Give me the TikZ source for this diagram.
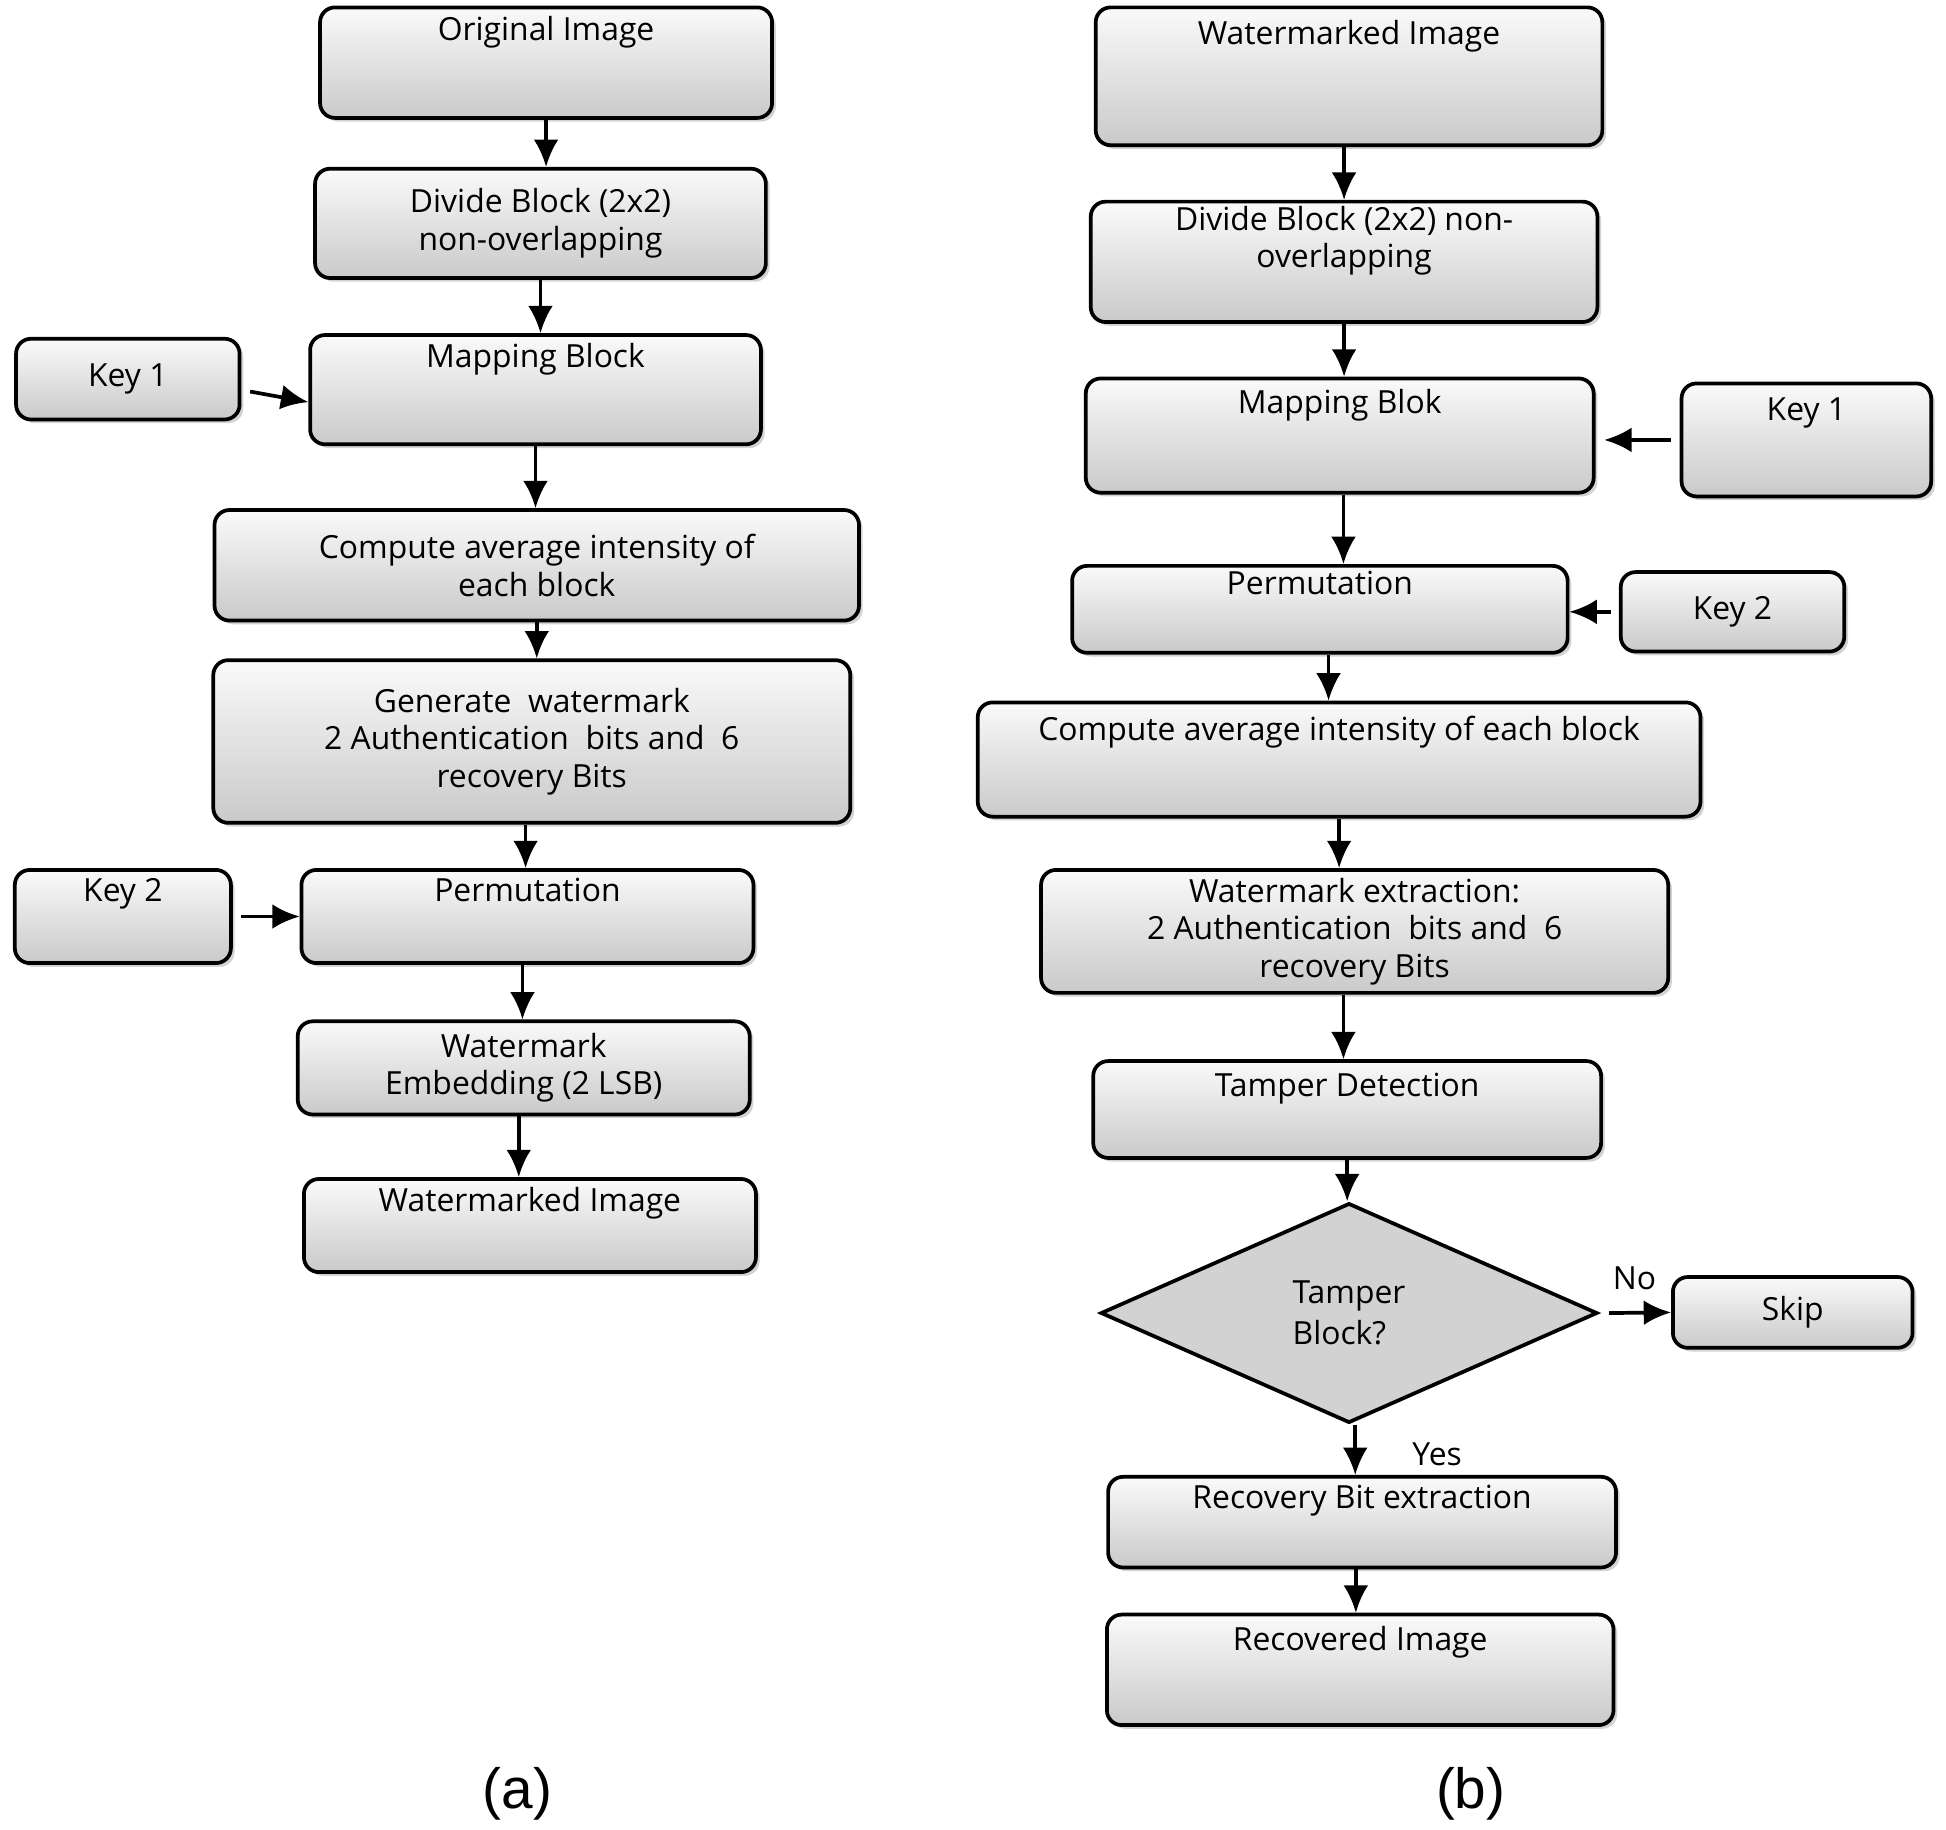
\documentclass[tikz,border=0pt]{standalone}
\usepackage{fontspec}
\setmainfont{Open Sans}
\newfontfamily\lab{Liberation Sans}
\usetikzlibrary{shapes.geometric,shadows,arrows.meta}
\begin{document}
\begin{tikzpicture}[x=0.01cm,y=-0.01cm,
 box/.style={draw=black,line width=0.03cm,rounded corners=0.12cm,top color=gray!4,bottom color=gray!42,
   drop shadow={shadow xshift=0.03cm,shadow yshift=-0.03cm,opacity=0.35},align=center,inner sep=1pt,
   font=\fontsize{7.3}{8.6}\selectfont},
 arr/.style={line width=0.03cm,-{Latex[length=0.22cm,width=0.2cm]}},
 txt/.style={font=\fontsize{7.3}{8.6}\selectfont}]
\useasboundingbox (0,0) rectangle (1568,1474);
% left
\node[box,minimum width=3.64cm,minimum height=0.89cm] (A1) at (440,50.5) {Original Image\\[0.25cm]};
\node[box,minimum width=3.63cm,minimum height=0.88cm] (A2) at (435.5,180) {Divide Block (2x2)\\non-overlapping};
\node[box,minimum width=1.80cm,minimum height=0.65cm] (K1) at (103,305.5) {Key 1};
\node[box,minimum width=3.63cm,minimum height=0.88cm] (A3) at (431.5,314) {Mapping Block\\[0.25cm]};
\node[box,minimum width=5.19cm,minimum height=0.89cm] (A4) at (432.5,455.5) {Compute average intensity of\\each block};
\node[box,minimum width=5.13cm,minimum height=1.31cm] (A5) at (428.5,597.5) {Generate\ \ watermark\\2 Authentication\ \ bits and\ \ 6\\recovery Bits};
\node[box,minimum width=1.74cm,minimum height=0.75cm] (K2) at (99,738.5) {Key 2\\[0.12cm]};
\node[box,minimum width=3.64cm,minimum height=0.75cm] (A6) at (425,738.5) {Permutation\\[0.12cm]};
\node[box,minimum width=3.64cm,minimum height=0.75cm] (A7) at (422,860.5) {Watermark\\Embedding (2 LSB)};
\node[box,minimum width=3.64cm,minimum height=0.75cm] (A8) at (427,987.5) {Watermarked Image\\[0.12cm]};
\draw[arr] (A1.south) -- (A1.south |- A2.north);
\draw[arr] (A2.south) -- (A2.south |- A3.north);
\draw[arr] (A3.south) -- (A3.south |- A4.north);
\draw[arr] (A4.south) -- (A4.south |- A5.north);
\draw[arr] ([xshift=-0.05cm]A5.south) -- ([xshift=-0.05cm]A5.south |- A6.north);
\draw[arr] ([xshift=-0.04cm]A6.south) -- ([xshift=-0.04cm]A6.south |- A7.north);
\draw[arr] ([xshift=-0.04cm]A7.south) -- ([xshift=-0.04cm]A7.south |- A8.north);
\draw[arr] ([xshift=0.07cm,yshift=-0.1cm]K1.east) -- ([yshift=-0.1cm]A3.west);
\draw[arr] ([xshift=0.07cm]K2.east) -- (A6.west);
% right
\node[box,minimum width=4.08cm,minimum height=1.11cm] (B1) at (1087,61.5) {Watermarked Image\\[0.4cm]};
\node[box,minimum width=4.08cm,minimum height=0.92cm] (B2) at (1083,211) {Divide Block (2x2) non-\\overlapping\\[0.1cm]};
\node[box,minimum width=4.09cm,minimum height=0.92cm] (B3) at (1079.5,351) {Mapping Blok\\[0.25cm]};
\node[box,minimum width=2.01cm,minimum height=0.91cm] (K1b) at (1455.5,354.5) {Key 1\\[0.2cm]};
\node[box,minimum width=3.99cm,minimum height=0.70cm] (B4) at (1063.5,491) {Permutation\\[0.12cm]};
\node[box,minimum width=1.80cm,minimum height=0.64cm] (K2b) at (1396,493) {Key 2};
\node[box,minimum width=5.82cm,minimum height=0.92cm] (B5) at (1079,612) {Compute average intensity of each block\\[0.2cm]};
\node[box,minimum width=5.05cm,minimum height=0.99cm] (B6) at (1091.5,750.5) {Watermark extraction:\\2 Authentication\ \ bits and\ \ 6\\recovery Bits};
\node[box,minimum width=4.09cm,minimum height=0.78cm] (B7) at (1085.5,894) {Tamper Detection\\[0.1cm]};
\node[diamond,draw=black,line width=0.03cm,fill=gray!35,inner sep=0pt,minimum width=4cm,minimum height=1.77cm,aspect=2.26,
  align=left,font=\fontsize{7.3}{9.5}\selectfont] (D) at (1087,1058) {Tamper\\Block?};
\node[box,minimum width=1.93cm,minimum height=0.57cm] (S) at (1444.5,1057.5) {Skip};
\node[box,minimum width=4.09cm,minimum height=0.73cm] (B8) at (1097.5,1226.5) {Recovery Bit extraction\\[0.1cm]};
\node[box,minimum width=4.08cm,minimum height=0.89cm] (B9) at (1096,1345.5) {Recovered Image\\[0.2cm]};
\draw[arr] ([xshift=-0.04cm]B1.south) -- ([xshift=-0.04cm]B1.south |- B2.north);
\draw[arr] (B2.south) -- (B2.south |- B3.north);
\draw[arr] ([xshift=0.03cm]B3.south) -- ([xshift=0.03cm]B3.south |- B4.north);
\draw[arr] ([xshift=0.07cm]B4.south) -- ([xshift=0.07cm]B4.south |- B5.north);
\draw[arr] (B5.south) -- (B5.south |- B6.north);
\draw[arr] ([xshift=-0.09cm]B6.south) -- ([xshift=-0.09cm]B6.south |- B7.north);
\draw[arr] (B7.south) -- (B7.south |- D.north);
\draw[arr] ([xshift=0.05cm]D.south) -- ([xshift=0.05cm]D.south |- B8.north);
\draw[arr] ([xshift=-0.05cm]B8.south) -- ([xshift=-0.05cm]B8.south |- B9.north);
\draw[arr] ([xshift=-0.07cm]K1b.west) -- ([xshift=0.07cm]K1b.west -| B3.east);
\draw[arr] ([xshift=-0.06cm]K2b.west) -- (K2b.west -| B4.east);
\draw[arr] ([xshift=0.08cm]D.east) -- (S.west);
\node[txt] (no) at (1317,1030) {No};
\node[txt] (yes) at (1158,1172) {Yes};
\node[font=\lab\fontsize{13}{15}\selectfont] (la) at (417,1445) {(a)};
\node[font=\lab\fontsize{13}{15}\selectfont] (lb) at (1185,1445) {(b)};
\end{tikzpicture}
\end{document}
